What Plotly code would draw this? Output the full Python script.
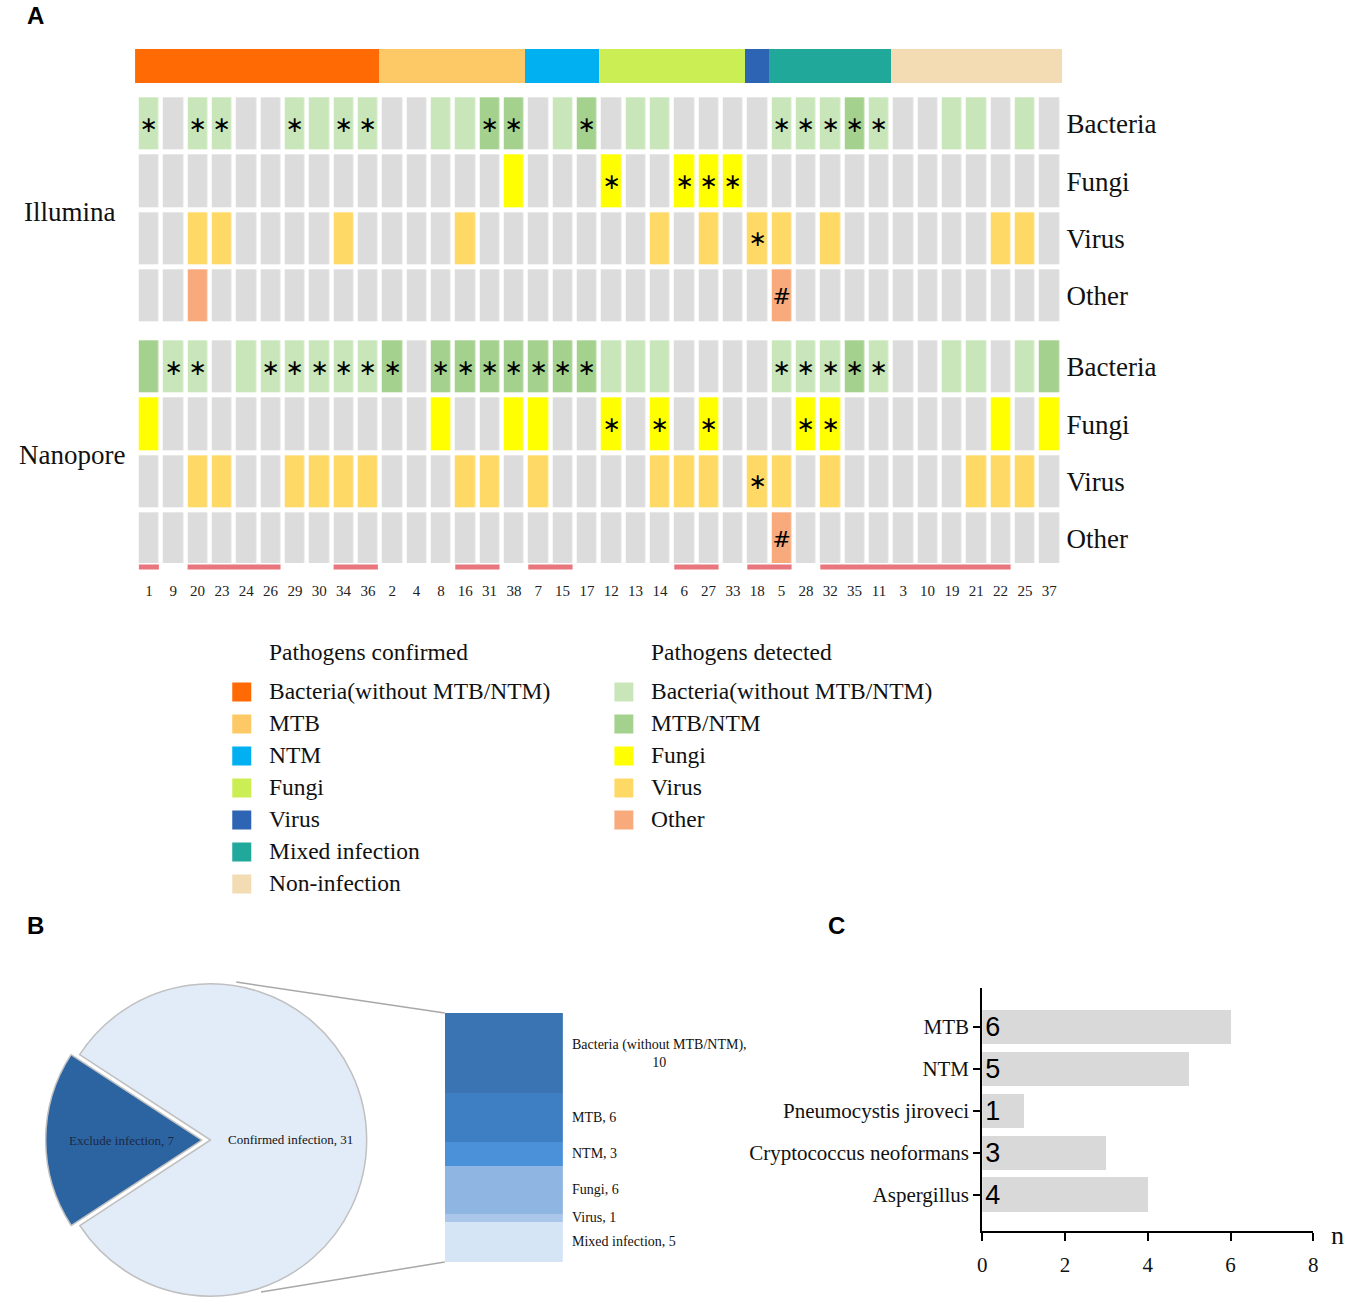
import math
import plotly.graph_objects as go

W, H = 1358, 1306
def px(x): return x / W
def py(y): return 1 - y / H

SERIF = "Liberation Serif"
SANS = "Liberation Sans"

# ---------------- Panel A data ----------------
patients = [1, 9, 20, 23, 24, 26, 29, 30, 34, 36, 2, 4, 8, 16, 31, 38, 7, 15, 17,
            12, 13, 14, 6, 27, 33, 18, 5, 28, 32, 35, 11, 3, 10, 19, 21, 22, 25, 37]
confirmed_groups = ["Bacteria(without MTB/NTM)", "MTB", "NTM", "Fungi", "Virus",
                    "Mixed infection", "Non-infection"]
group_sizes = [10, 6, 3, 6, 1, 5, 7]
group_colors = ["#FF6A05", "#FDC966", "#00B0F0", "#CCEE55", "#2E64B4", "#20A89A", "#F3DCB4"]

# detection codes: 0 none, 1 bacteria, 2 MTB/NTM, 3 fungi, 4 virus, 5 other
detected_names = ["Bacteria(without MTB/NTM)", "MTB/NTM", "Fungi", "Virus", "Other"]
detect_colors = ["#DCDCDC", "#C8E6B9", "#A4D28E", "#FFFF00", "#FFD966", "#F8AA7C"]
row_names = ["Bacteria", "Fungi", "Virus", "Other"]

ill_bac = [1,0,1,1,0,0,1,1,1,1, 0,0,1,1,2,2, 0,1,2, 0,1,1,0,0,0, 0, 1,1,1,2,1, 0,0,1,1,0,1,0]
ill_fun = [0,0,0,0,0,0,0,0,0,0, 0,0,0,0,0,3, 0,0,0, 3,0,0,3,3,3, 0, 0,0,0,0,0, 0,0,0,0,0,0,0]
ill_vir = [0,0,4,4,0,0,0,0,4,0, 0,0,0,4,0,0, 0,0,0, 0,0,4,0,4,0, 4, 4,0,4,0,0, 0,0,0,0,4,4,0]
ill_oth = [0,0,5,0,0,0,0,0,0,0, 0,0,0,0,0,0, 0,0,0, 0,0,0,0,0,0, 0, 5,0,0,0,0, 0,0,0,0,0,0,0]
ill_bac_mark = "*-**--*-**" + "----**" + "--*" + "------" + "-" + "*****" + "-------"
ill_fun_mark = "----------" + "------" + "---" + "*--***" + "-" + "-----" + "-------"
ill_vir_mark = "----------" + "------" + "---" + "------" + "*" + "-----" + "-------"
ill_oth_mark = "----------" + "------" + "---" + "------" + "-" + "#----" + "-------"

nan_bac = [2,1,1,0,1,1,1,1,1,1, 2,0,2,2,2,2, 2,2,2, 1,1,1,0,0,0, 0, 1,1,1,2,1, 0,0,1,1,0,1,2]
nan_fun = [3,0,0,0,0,0,0,0,0,0, 0,0,3,0,0,3, 3,0,0, 3,0,3,0,3,0, 0, 0,3,3,0,0, 0,0,0,0,3,0,3]
nan_vir = [0,0,4,4,0,0,4,4,4,4, 0,0,0,4,4,0, 4,0,0, 0,0,4,4,4,0, 4, 4,0,4,0,0, 0,0,0,4,4,4,0]
nan_oth = [0,0,0,0,0,0,0,0,0,0, 0,0,0,0,0,0, 0,0,0, 0,0,0,0,0,0, 0, 5,0,0,0,0, 0,0,0,0,0,0,0]
nan_bac_mark = "-**--*****" + "*-****" + "***" + "------" + "-" + "*****" + "-------"
nan_fun_mark = "----------" + "------" + "---" + "*-*-*-" + "-" + "-**--" + "-------"
nan_vir_mark = "----------" + "------" + "---" + "------" + "*" + "-----" + "-------"
nan_oth_mark = "----------" + "------" + "---" + "------" + "-" + "#----" + "-------"

underline = [1,0,1,1,1,1,0,0,1,1, 0,0,0,1,1,0, 1,1,0, 0,0,0,1,1,0, 1, 1,0,1,1,1, 1,1,1,1,1,0,0]

# ---------------- Panel B data ----------------
pie_labels = ["Exclude infection", "Confirmed infection"]
pie_values = [7, 31]
pie_colors = ["#2C64A2", "#E2ECF8"]
pie_text_colors = ["#1B2A44", "#111111"]
sub_labels = ["Bacteria (without MTB/NTM),<br>10", "MTB, 6", "NTM, 3", "Fungi, 6", "Virus, 1", "Mixed infection, 5"]
sub_values = [10, 6, 3, 6, 1, 5]
sub_colors = ["#3A74B2", "#3E7EC3", "#4B91DA", "#8FB5E2", "#AAC6E9", "#D6E5F6"]

# ---------------- Panel C data ----------------
c_cats = ["MTB", "NTM", "Pneumocystis jiroveci", "Cryptococcus neoformans", "Aspergillus"]
c_vals = [6, 5, 1, 3, 4]

# ---------------- helpers ----------------
ncol = len(patients)
xs = list(range(ncol))
GLYPH = {"-": "", "*": "\u2217", "#": "#"}

def discrete_scale(colors):
    n = len(colors)
    cs = []
    for i, c in enumerate(colors):
        cs.append([i / n, c])
        cs.append([(i + 1) / n, c])
    return cs

def marks(s):
    return [GLYPH[ch] for ch in s]

fig = go.Figure()

# top confirmed-group bar
col_group = []
for gi, n in enumerate(group_sizes):
    col_group += [gi] * n
fig.add_trace(go.Heatmap(z=[col_group], x=xs, y=[0], colorscale=discrete_scale(group_colors),
                         zmin=-0.5, zmax=len(group_colors) - 0.5, showscale=False,
                         hoverinfo="skip", xaxis="x", yaxis="y"))

# platform heatmaps
for zrows, mrows, ax in [([ill_bac, ill_fun, ill_vir, ill_oth],
                          [ill_bac_mark, ill_fun_mark, ill_vir_mark, ill_oth_mark], "2"),
                         ([nan_bac, nan_fun, nan_vir, nan_oth],
                          [nan_bac_mark, nan_fun_mark, nan_vir_mark, nan_oth_mark], "3")]:
    fig.add_trace(go.Heatmap(z=zrows, x=xs, y=list(range(4)),
                             text=[marks(m) for m in mrows], texttemplate="%{text}",
                             textfont=dict(family="DejaVu Sans", size=22, color="black"),
                             colorscale=discrete_scale(detect_colors),
                             zmin=-0.5, zmax=len(detect_colors) - 0.5, showscale=False,
                             xgap=4.5, ygap=5, hoverinfo="skip",
                             xaxis="x" + ax, yaxis="y" + ax))

# underline segments
seg_x, seg_y = [], []
i = 0
while i < ncol:
    if underline[i]:
        j = i
        while j + 1 < ncol and underline[j + 1]:
            j += 1
        seg_x += [i - 0.41, j + 0.41, None]
        seg_y += [0.5, 0.5, None]
        i = j + 1
    else:
        i += 1
fig.add_trace(go.Scatter(x=seg_x, y=seg_y, mode="lines", line=dict(color="#E8767C", width=5),
                         hoverinfo="skip", xaxis="x4", yaxis="y4"))

# legend swatches
leg_x = [0] * len(group_colors) + [1] * len(detected_names)
leg_y = list(range(len(group_colors))) + list(range(len(detected_names)))
leg_c = group_colors + detect_colors[1:]
fig.add_trace(go.Scatter(x=leg_x, y=leg_y, mode="markers",
                         marker=dict(symbol="square", size=19, color=leg_c, line=dict(width=0)),
                         hoverinfo="skip", xaxis="x5", yaxis="y5"))

# ---------------- Panel B ----------------
pie_rotation = -123.2
pie_pull = [0.055, 0]
cx, cy, half = 207, 1140, 166
fig.add_trace(go.Pie(labels=pie_labels, values=pie_values, sort=False, direction="clockwise",
                     rotation=pie_rotation, pull=pie_pull,
                     marker=dict(colors=pie_colors, line=dict(color="#C0C0C0", width=1.5)),
                     textinfo="none",
                     domain=dict(x=[px(cx - half), px(cx + half)], y=[py(cy + half), py(cy - half)]),
                     hoverinfo="skip", showlegend=False))

for lab, val, col in zip(sub_labels, sub_values, sub_colors):
    fig.add_trace(go.Bar(x=[0], y=[val], marker=dict(color=col, line=dict(width=0)), width=1,
                         hoverinfo="skip", xaxis="x6", yaxis="y6"))

# ---------------- Panel C ----------------
fig.add_trace(go.Bar(y=c_cats, x=c_vals, orientation="h", width=0.83,
                     marker=dict(color="#D9D9D9", line=dict(width=0)),
                     text=[str(v) for v in c_vals], textposition="inside", insidetextanchor="start",
                     constraintext="none", textangle=0,
                     textfont=dict(family=SANS, size=27, color="black"),
                     hoverinfo="skip", xaxis="x7", yaxis="y7"))

# ---------------- Layout ----------------
hidden = dict(visible=False, showgrid=False, zeroline=False, fixedrange=True)
xdom = [px(132.7), px(1064.3)]
ROWFONT = dict(family=SERIF, size=27, color="#111")

layout = dict(
    width=W, height=H, margin=dict(l=0, r=0, t=0, b=0),
    paper_bgcolor="white", plot_bgcolor="white", showlegend=False, barmode="stack",
    xaxis=dict(domain=[px(131), px(1065)], range=[-0.5, 37.5], **hidden),
    yaxis=dict(domain=[py(83), py(49)], range=[-0.5, 0.5], **hidden),
    xaxis2=dict(domain=xdom, range=[-0.5, 37.5], anchor="y2", **hidden),
    yaxis2=dict(domain=[py(324.7), py(95.3)], range=[3.5, -0.5], anchor="x2", side="right",
                tickvals=[0, 1, 2, 3], ticktext=row_names, showgrid=False, zeroline=False,
                showline=False, ticks="", ticklabelstandoff=4, tickfont=ROWFONT),
    xaxis3=dict(domain=xdom, range=[-0.5, 37.5], anchor="y3", **hidden),
    yaxis3=dict(domain=[py(567.7), py(338.3)], range=[3.5, -0.5], anchor="x3", side="right",
                tickvals=[0, 1, 2, 3], ticktext=row_names, showgrid=False, zeroline=False,
                showline=False, ticks="", ticklabelstandoff=4, tickfont=ROWFONT),
    xaxis4=dict(domain=xdom, range=[-0.5, 37.5], anchor="y4", showgrid=False, zeroline=False,
                showline=False, tickvals=xs, ticktext=[str(p) for p in patients], ticks="",
                ticklabelstandoff=9, tickfont=dict(family=SERIF, size=15, color="#222")),
    yaxis4=dict(domain=[py(571), py(563)], range=[0, 1], anchor="x4", **hidden),
    xaxis5=dict(domain=[px(228.5), px(633.5)], range=[-0.026, 1.026], anchor="y5", **hidden),
    yaxis5=dict(domain=[py(900), py(676)], range=[6.5, -0.5], anchor="x5", **hidden),
    xaxis6=dict(domain=[px(443), px(562)], range=[-0.5, 0.5], anchor="y6", **hidden),
    yaxis6=dict(domain=[py(1262), py(1013)], range=[31, 0], anchor="x6", **hidden),
    xaxis7=dict(domain=[px(984.5), px(1318)], range=[0, 8], anchor="y7", tickvals=[0, 2, 4, 6, 8],
                showgrid=False, zeroline=False, showline=True, linecolor="black", linewidth=2,
                ticks="outside", ticklen=8, tickwidth=2, tickcolor="black", ticklabelstandoff=6,
                tickfont=dict(family=SERIF, size=21, color="#111")),
    yaxis7=dict(domain=[py(1231), py(988)], type="category", categoryarray=c_cats,
                range=[4.86, -0.93], anchor="x7", showgrid=False, zeroline=False, showline=True,
                linecolor="black", linewidth=2, ticks="outside", ticklen=7, tickwidth=2,
                tickcolor="black", tickfont=dict(family=SERIF, size=21, color="#111")),
)
fig.update_layout(**layout)

ann = []
def text(x, y, s, size, family=SERIF, xanchor="left", bold=False, color="#111"):
    ann.append(dict(x=px(x), y=py(y), xref="paper", yref="paper", text=("<b>%s</b>" % s) if bold else s,
                    showarrow=False, xanchor=xanchor, yanchor="middle",
                    font=dict(family=family, size=size, color=color)))

text(20, 15, "A", 24, SANS, bold=True, color="black")
text(20, 925, "B", 24, SANS, bold=True, color="black")
text(827, 925, "C", 24, SANS, bold=True, color="black")
text(65, 212, "Illumina", 27, xanchor="center")
text(67, 455, "Nanopore", 27, xanchor="center")

# legend texts
text(264, 652, "Pathogens confirmed", 23.5)
text(649, 652, "Pathogens detected", 23.5)
for k, name in enumerate(confirmed_groups):
    text(264, 691 + 32 * k, name, 23.5)
for k, name in enumerate(detected_names):
    text(649, 691 + 32 * k, name, 23.5)

# pie labels placed along each slice's bisector
r_pie = half / (1 + max(pie_pull))
total = sum(pie_values)
start = pie_rotation % 360
for lab, val, pull, tcol in zip(pie_labels, pie_values, pie_pull, pie_text_colors):
    mid = math.radians(start + 360 * val / total / 2)
    d = r_pie * (pull + 0.51)
    text(cx + d * math.sin(mid), cy - d * math.cos(mid), "%s, %d" % (lab, val), 13,
         xanchor="center", color=tcol)
    start += 360 * val / total

# sub-bar labels
cum = 0
for lab, val in zip(sub_labels, sub_values):
    ann.append(dict(x=0.5, y=cum + val / 2, xref="x6", yref="y6", text=lab, showarrow=False,
                    xanchor="left", yanchor="middle", xshift=7, align="center",
                    font=dict(family=SERIF, size=14, color="#111")))
    cum += val

text(1334, 1235, "n", 26)
fig.update_layout(annotations=ann)

fig.update_layout(shapes=[
    dict(type="line", xref="paper", yref="paper", x0=px(233), y0=py(982), x1=px(443), y1=py(1013),
         line=dict(color="#A8A8A8", width=1.5)),
    dict(type="line", xref="paper", yref="paper", x0=px(258), y0=py(1292), x1=px(443), y1=py(1262),
         line=dict(color="#A8A8A8", width=1.5)),
])

fig.write_html("out.html", config={"displayModeBar": False},
               post_script="document.body.style.margin='0';document.body.style.padding='0';"
                           "document.body.style.overflow='hidden';")
